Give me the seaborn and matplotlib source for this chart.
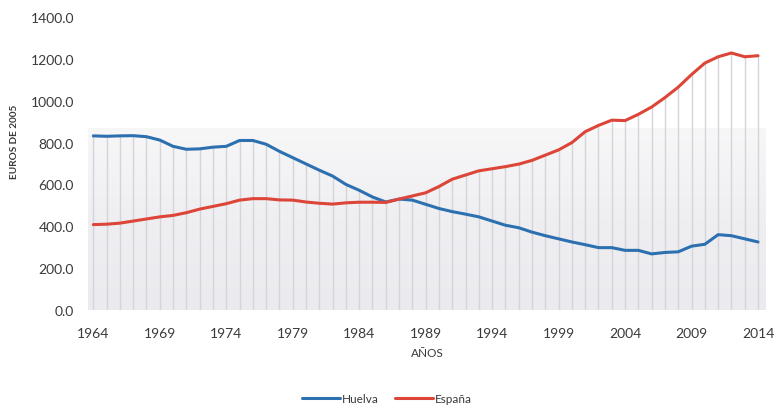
import numpy as np
import pandas as pd
import matplotlib
matplotlib.use("Agg")
import matplotlib.pyplot as plt
from matplotlib.colors import LinearSegmentedColormap
import seaborn as sns

years = list(range(1964, 2015))
huelva = [832, 830, 832, 833, 828, 812, 782, 768, 770, 778,
          782, 810, 810, 792, 758, 728, 698, 668, 640, 600,
          572, 540, 516, 530, 525, 505, 485, 470, 458, 445,
          425, 405, 393, 372, 355, 340, 325, 312, 298, 298,
          285, 285, 268, 275, 278, 305, 314, 360, 355, 340,
          325]
espana = [408, 410, 415, 425, 435, 445, 452, 465, 482, 495,
          508, 525, 532, 532, 526, 525, 516, 510, 506, 512,
          515, 515, 514, 530, 545, 560, 590, 625, 645, 665,
          675, 685, 697, 715, 740, 765, 800, 852, 882, 907,
          905, 935, 970, 1015, 1065, 1125, 1180, 1210, 1228, 1210,
          1215]
series_names = ["Huelva", "España"]
yticks = [0, 200, 400, 600, 800, 1000, 1200, 1400]
xticks = list(range(1964, 2015, 5))

df = pd.DataFrame({
    "Año": years * 2,
    "Valor": huelva + espana,
    "Serie": [series_names[0]] * len(years) + [series_names[1]] * len(years),
})

sns.set_theme(style="white")
plt.rcParams["font.family"] = ["Lato", "DejaVu Sans"]

fig = plt.figure(figsize=(7.78, 4.14), dpi=100)
ax = fig.add_axes([88 / 778, 1 - 311 / 414, (766 - 88) / 778, (311 - 18) / 414])

x0, x1 = 1963.6, 2014.6
# background gradient band
grad = np.linspace(0, 1, 256).reshape(-1, 1)
cmap = LinearSegmentedColormap.from_list("bg", ["#ebebef", "#efeff2", "#f7f7f8"])
ax.imshow(grad, aspect="auto", cmap=cmap, extent=(x0, x1, 0, 865),
          origin="lower", zorder=0)

# drop lines
tops = np.maximum(np.array(huelva), np.array(espana))
ax.vlines(years, 0, tops, colors="#d4d4da", linewidth=1.0, zorder=1)

sns.lineplot(data=df, x="Año", y="Valor", hue="Serie",
             palette={"Huelva": "#2d70b0", "España": "#dc4537"},
             linewidth=2.2, ax=ax, zorder=3)

ax.set_xlim(x0, x1)
ax.set_ylim(0, 1400)
ax.set_yticks(yticks)
ax.set_yticklabels([f"{v:.1f}" for v in yticks])
ax.set_xticks(xticks)
ax.set_xticklabels([str(v) for v in xticks])
ax.tick_params(axis="both", labelsize=10, colors="#3a3a3a", length=0)
ax.tick_params(axis="y", pad=10)
ax.tick_params(axis="x", pad=12)
for s in ax.spines.values():
    s.set_visible(False)
ax.axhline(0, color="#d9d9d9", linewidth=0.8, zorder=2)

ax.set_xlabel("AÑOS", fontsize=8.5, color="#3a3a3a", labelpad=6)
ax.set_ylabel("EUROS DE 2005", fontsize=7.2, fontweight="bold", color="#3a3a3a")
ax.yaxis.set_label_coords((19 - 88) / 678, (311 - 142) / 293)

handles, labels = ax.get_legend_handles_labels()
ax.legend(handles, labels, loc="center", bbox_to_anchor=(387 / 778, 1 - 400 / 414),
          bbox_transform=fig.transFigure, ncol=2, frameon=False, fontsize=8.5,
          handlelength=3.2, handletextpad=0.15, columnspacing=1.4,
          labelcolor="#3a3a3a")

fig.savefig("out.png", dpi=100)
